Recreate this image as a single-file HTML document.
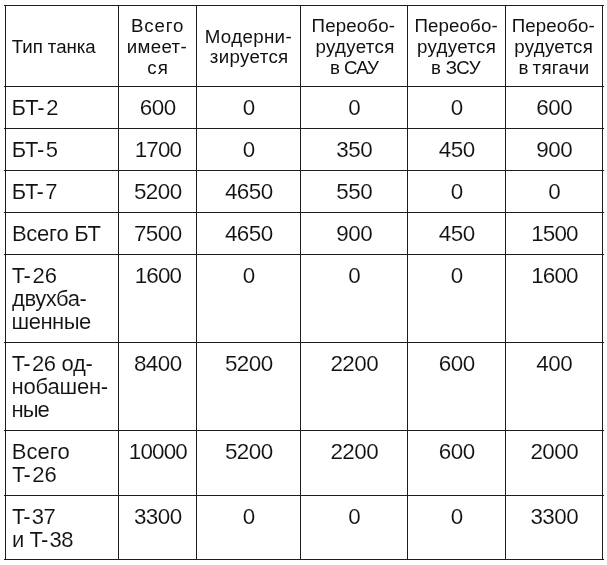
<!DOCTYPE html>
<html lang="ru"><head><meta charset="utf-8"><title>Таблица</title>
<style>
html,body{margin:0;padding:0;background:#fff;}
body{width:607px;height:565px;position:relative;overflow:hidden;will-change:transform;font-family:"Liberation Sans",sans-serif;color:#111;}
.l{position:absolute;background:#1c1c1c;}
.t{position:absolute;white-space:nowrap;}
.h{font-size:18.7px;line-height:21px;}
.b{font-size:22.0px;line-height:25px;-webkit-text-stroke:0.1px #fff;}
.hy{position:relative;left:-1.6px;}
.n{text-align:center;font-size:22.4px;line-height:25px;-webkit-text-stroke:0.1px #fff;}
</style></head><body>
<div class="l" style="left:4px;top:5px;width:600px;height:1px"></div>
<div class="l" style="left:4px;top:86px;width:600px;height:1px"></div>
<div class="l" style="left:4px;top:128px;width:600px;height:1px"></div>
<div class="l" style="left:4px;top:170px;width:600px;height:1px"></div>
<div class="l" style="left:4px;top:212px;width:600px;height:1px"></div>
<div class="l" style="left:4px;top:254px;width:600px;height:1px"></div>
<div class="l" style="left:4px;top:342px;width:600px;height:1px"></div>
<div class="l" style="left:4px;top:430px;width:600px;height:1px"></div>
<div class="l" style="left:4px;top:495px;width:600px;height:1px"></div>
<div class="l" style="left:4px;top:559px;width:600px;height:1px"></div>
<div class="l" style="left:5px;top:5px;width:1px;height:555px"></div>
<div class="l" style="left:118px;top:5px;width:1px;height:555px"></div>
<div class="l" style="left:196px;top:5px;width:1px;height:555px"></div>
<div class="l" style="left:300px;top:5px;width:1px;height:555px"></div>
<div class="l" style="left:407px;top:5px;width:1px;height:555px"></div>
<div class="l" style="left:505px;top:5px;width:1px;height:555px"></div>
<div class="l" style="left:602px;top:5px;width:1px;height:555px"></div>
<div class="t h" style="left:11.71px;top:36px;letter-spacing:-0.046px;">Тип танка</div>
<div class="t h" style="left:131.04px;top:15px;letter-spacing:0.847px;">Всего</div>
<div class="t h" style="left:126.83px;top:36px;letter-spacing:0.314px;">имеет-</div>
<div class="t h" style="left:147.32px;top:57px;letter-spacing:1.177px;">ся</div>
<div class="t h" style="left:204.74px;top:26px;letter-spacing:0.350px;">Модерни-</div>
<div class="t h" style="left:209.81px;top:46px;letter-spacing:0.357px;">зируется</div>
<div class="t h" style="left:311.54px;top:15px;letter-spacing:0.165px;">Переобо-</div>
<div class="t h" style="left:315.53px;top:36px;letter-spacing:0.322px;">рудуется</div>
<div class="t h" style="left:329.93px;top:57px;letter-spacing:-0.821px;word-spacing:0.5px;">в САУ</div>
<div class="t h" style="left:414.54px;top:15px;letter-spacing:0.108px;">Переобо-</div>
<div class="t h" style="left:417.03px;top:36px;letter-spacing:0.322px;">рудуется</div>
<div class="t h" style="left:431.03px;top:57px;letter-spacing:-0.452px;word-spacing:0.5px;">в ЗСУ</div>
<div class="t h" style="left:511.64px;top:15px;letter-spacing:0.108px;">Переобо-</div>
<div class="t h" style="left:514.13px;top:36px;letter-spacing:0.322px;">рудуется</div>
<div class="t h" style="left:518.43px;top:57px;letter-spacing:0.279px;word-spacing:-1.5px;">в тягачи</div>
<div class="t b" style="left:11.58px;top:95px;letter-spacing:0.154px;">БТ<span class="hy">-</span>2</div>
<div class="t b" style="left:11.68px;top:137px;letter-spacing:-0.046px;">БТ<span class="hy">-</span>5</div>
<div class="t b" style="left:11.68px;top:179px;letter-spacing:-0.180px;">БТ<span class="hy">-</span>7</div>
<div class="t b" style="left:11.88px;top:221px;letter-spacing:-0.227px;">Всего БТ</div>
<div class="t b" style="left:11.76px;top:263px;letter-spacing:-0.033px;">Т<span class="hy">-</span>26</div>
<div class="t b" style="left:12.10px;top:286px;letter-spacing:-0.443px;">двухба-</div>
<div class="t b" style="left:11.53px;top:309px;letter-spacing:-0.493px;">шенные</div>
<div class="t b" style="left:11.76px;top:351px;letter-spacing:-0.318px;">Т<span class="hy">-</span>26 од-</div>
<div class="t b" style="left:11.53px;top:374px;letter-spacing:-0.201px;">нобашен-</div>
<div class="t b" style="left:11.53px;top:397px;letter-spacing:-0.965px;">ные</div>
<div class="t b" style="left:11.68px;top:439px;letter-spacing:0.081px;">Всего</div>
<div class="t b" style="left:11.96px;top:462px;letter-spacing:-0.200px;">Т<span class="hy">-</span>26</div>
<div class="t b" style="left:11.96px;top:504px;letter-spacing:-0.500px;">Т<span class="hy">-</span>37</div>
<div class="t b" style="left:12.03px;top:527px;letter-spacing:-0.454px;">и Т<span class="hy">-</span>38</div>
<div class="t n" style="left:118.76px;top:95px;width:78.0px;letter-spacing:-0.52px">600</div>
<div class="t n" style="left:196.76px;top:95px;width:104.0px;letter-spacing:-0.52px">0</div>
<div class="t n" style="left:300.76px;top:95px;width:107.0px;letter-spacing:-0.52px">0</div>
<div class="t n" style="left:407.76px;top:95px;width:98.0px;letter-spacing:-0.52px">0</div>
<div class="t n" style="left:505.76px;top:95px;width:97.0px;letter-spacing:-0.52px">600</div>
<div class="t n" style="left:118.91px;top:137px;width:78.0px;letter-spacing:-0.82px">1700</div>
<div class="t n" style="left:196.76px;top:137px;width:104.0px;letter-spacing:-0.52px">0</div>
<div class="t n" style="left:300.76px;top:137px;width:107.0px;letter-spacing:-0.52px">350</div>
<div class="t n" style="left:407.76px;top:137px;width:98.0px;letter-spacing:-0.52px">450</div>
<div class="t n" style="left:505.76px;top:137px;width:97.0px;letter-spacing:-0.52px">900</div>
<div class="t n" style="left:118.76px;top:179px;width:78.0px;letter-spacing:-0.52px">5200</div>
<div class="t n" style="left:196.76px;top:179px;width:104.0px;letter-spacing:-0.52px">4650</div>
<div class="t n" style="left:300.76px;top:179px;width:107.0px;letter-spacing:-0.52px">550</div>
<div class="t n" style="left:407.76px;top:179px;width:98.0px;letter-spacing:-0.52px">0</div>
<div class="t n" style="left:505.76px;top:179px;width:97.0px;letter-spacing:-0.52px">0</div>
<div class="t n" style="left:118.76px;top:221px;width:78.0px;letter-spacing:-0.52px">7500</div>
<div class="t n" style="left:196.76px;top:221px;width:104.0px;letter-spacing:-0.52px">4650</div>
<div class="t n" style="left:300.76px;top:221px;width:107.0px;letter-spacing:-0.52px">900</div>
<div class="t n" style="left:407.76px;top:221px;width:98.0px;letter-spacing:-0.52px">450</div>
<div class="t n" style="left:505.91px;top:221px;width:97.0px;letter-spacing:-0.82px">1500</div>
<div class="t n" style="left:118.91px;top:263px;width:78.0px;letter-spacing:-0.82px">1600</div>
<div class="t n" style="left:196.76px;top:263px;width:104.0px;letter-spacing:-0.52px">0</div>
<div class="t n" style="left:300.76px;top:263px;width:107.0px;letter-spacing:-0.52px">0</div>
<div class="t n" style="left:407.76px;top:263px;width:98.0px;letter-spacing:-0.52px">0</div>
<div class="t n" style="left:505.91px;top:263px;width:97.0px;letter-spacing:-0.82px">1600</div>
<div class="t n" style="left:118.76px;top:351px;width:78.0px;letter-spacing:-0.52px">8400</div>
<div class="t n" style="left:196.76px;top:351px;width:104.0px;letter-spacing:-0.52px">5200</div>
<div class="t n" style="left:300.76px;top:351px;width:107.0px;letter-spacing:-0.52px">2200</div>
<div class="t n" style="left:407.76px;top:351px;width:98.0px;letter-spacing:-0.52px">600</div>
<div class="t n" style="left:505.76px;top:351px;width:97.0px;letter-spacing:-0.52px">400</div>
<div class="t n" style="left:118.91px;top:439px;width:78.0px;letter-spacing:-0.82px">10000</div>
<div class="t n" style="left:196.76px;top:439px;width:104.0px;letter-spacing:-0.52px">5200</div>
<div class="t n" style="left:300.76px;top:439px;width:107.0px;letter-spacing:-0.52px">2200</div>
<div class="t n" style="left:407.76px;top:439px;width:98.0px;letter-spacing:-0.52px">600</div>
<div class="t n" style="left:505.76px;top:439px;width:97.0px;letter-spacing:-0.52px">2000</div>
<div class="t n" style="left:118.76px;top:504px;width:78.0px;letter-spacing:-0.52px">3300</div>
<div class="t n" style="left:196.76px;top:504px;width:104.0px;letter-spacing:-0.52px">0</div>
<div class="t n" style="left:300.76px;top:504px;width:107.0px;letter-spacing:-0.52px">0</div>
<div class="t n" style="left:407.76px;top:504px;width:98.0px;letter-spacing:-0.52px">0</div>
<div class="t n" style="left:505.76px;top:504px;width:97.0px;letter-spacing:-0.52px">3300</div>
</body></html>
